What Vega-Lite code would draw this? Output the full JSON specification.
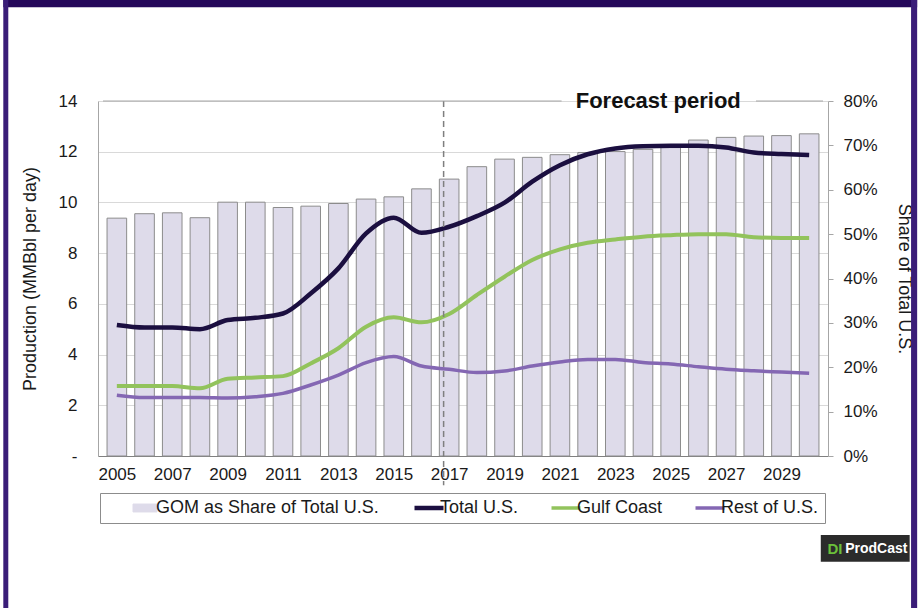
{
  "$schema": "https://vega.github.io/schema/vega-lite/v6.json",
  "width": 730,
  "height": 355,
  "autosize": {"type": "none"},
  "padding": {"left": 98, "top": 101, "right": 92, "bottom": 152},
  "background": "white",
  "config": {
    "view": {"stroke": null},
    "font": "Liberation Sans",
    "axis": {
      "labelFont": "Liberation Sans",
      "titleFont": "Liberation Sans",
      "labelColor": "#1a1a1a",
      "titleColor": "#1a1a1a",
      "titleFontWeight": "normal",
      "labelFontSize": 17,
      "titleFontSize": 18
    }
  },
  "datasets": {
    "share": [
      {"year": 2005, "share": 0.536}, {"year": 2006, "share": 0.546}, {"year": 2007, "share": 0.548},
      {"year": 2008, "share": 0.537}, {"year": 2009, "share": 0.572}, {"year": 2010, "share": 0.572},
      {"year": 2011, "share": 0.560}, {"year": 2012, "share": 0.563}, {"year": 2013, "share": 0.569},
      {"year": 2014, "share": 0.579}, {"year": 2015, "share": 0.584}, {"year": 2016, "share": 0.602},
      {"year": 2017, "share": 0.624}, {"year": 2018, "share": 0.652}, {"year": 2019, "share": 0.669},
      {"year": 2020, "share": 0.673}, {"year": 2021, "share": 0.679}, {"year": 2022, "share": 0.684},
      {"year": 2023, "share": 0.686}, {"year": 2024, "share": 0.691}, {"year": 2025, "share": 0.695},
      {"year": 2026, "share": 0.712}, {"year": 2027, "share": 0.718}, {"year": 2028, "share": 0.721},
      {"year": 2029, "share": 0.722}, {"year": 2030, "share": 0.726}
    ],
    "prod": [
      {"year": 2005, "series": "Total U.S.", "mmbd": 5.17}, {"year": 2006, "series": "Total U.S.", "mmbd": 5.07},
      {"year": 2007, "series": "Total U.S.", "mmbd": 5.07}, {"year": 2008, "series": "Total U.S.", "mmbd": 5.0},
      {"year": 2009, "series": "Total U.S.", "mmbd": 5.36}, {"year": 2010, "series": "Total U.S.", "mmbd": 5.45},
      {"year": 2011, "series": "Total U.S.", "mmbd": 5.62}, {"year": 2012, "series": "Total U.S.", "mmbd": 6.41},
      {"year": 2013, "series": "Total U.S.", "mmbd": 7.4}, {"year": 2014, "series": "Total U.S.", "mmbd": 8.78},
      {"year": 2015, "series": "Total U.S.", "mmbd": 9.4}, {"year": 2016, "series": "Total U.S.", "mmbd": 8.8},
      {"year": 2017, "series": "Total U.S.", "mmbd": 9.04}, {"year": 2018, "series": "Total U.S.", "mmbd": 9.46},
      {"year": 2019, "series": "Total U.S.", "mmbd": 9.99}, {"year": 2020, "series": "Total U.S.", "mmbd": 10.82},
      {"year": 2021, "series": "Total U.S.", "mmbd": 11.47}, {"year": 2022, "series": "Total U.S.", "mmbd": 11.9},
      {"year": 2023, "series": "Total U.S.", "mmbd": 12.13}, {"year": 2024, "series": "Total U.S.", "mmbd": 12.22},
      {"year": 2025, "series": "Total U.S.", "mmbd": 12.24}, {"year": 2026, "series": "Total U.S.", "mmbd": 12.24},
      {"year": 2027, "series": "Total U.S.", "mmbd": 12.17}, {"year": 2028, "series": "Total U.S.", "mmbd": 11.97},
      {"year": 2029, "series": "Total U.S.", "mmbd": 11.91}, {"year": 2030, "series": "Total U.S.", "mmbd": 11.87},
      {"year": 2005, "series": "Gulf Coast", "mmbd": 2.76}, {"year": 2006, "series": "Gulf Coast", "mmbd": 2.76},
      {"year": 2007, "series": "Gulf Coast", "mmbd": 2.76}, {"year": 2008, "series": "Gulf Coast", "mmbd": 2.67},
      {"year": 2009, "series": "Gulf Coast", "mmbd": 3.05}, {"year": 2010, "series": "Gulf Coast", "mmbd": 3.1},
      {"year": 2011, "series": "Gulf Coast", "mmbd": 3.15}, {"year": 2012, "series": "Gulf Coast", "mmbd": 3.65},
      {"year": 2013, "series": "Gulf Coast", "mmbd": 4.25}, {"year": 2014, "series": "Gulf Coast", "mmbd": 5.1},
      {"year": 2015, "series": "Gulf Coast", "mmbd": 5.47}, {"year": 2016, "series": "Gulf Coast", "mmbd": 5.27},
      {"year": 2017, "series": "Gulf Coast", "mmbd": 5.6}, {"year": 2018, "series": "Gulf Coast", "mmbd": 6.35},
      {"year": 2019, "series": "Gulf Coast", "mmbd": 7.07}, {"year": 2020, "series": "Gulf Coast", "mmbd": 7.73},
      {"year": 2021, "series": "Gulf Coast", "mmbd": 8.15}, {"year": 2022, "series": "Gulf Coast", "mmbd": 8.41},
      {"year": 2023, "series": "Gulf Coast", "mmbd": 8.54}, {"year": 2024, "series": "Gulf Coast", "mmbd": 8.65},
      {"year": 2025, "series": "Gulf Coast", "mmbd": 8.71}, {"year": 2026, "series": "Gulf Coast", "mmbd": 8.75},
      {"year": 2027, "series": "Gulf Coast", "mmbd": 8.75}, {"year": 2028, "series": "Gulf Coast", "mmbd": 8.63},
      {"year": 2029, "series": "Gulf Coast", "mmbd": 8.6}, {"year": 2030, "series": "Gulf Coast", "mmbd": 8.6},
      {"year": 2005, "series": "Rest of U.S.", "mmbd": 2.4}, {"year": 2006, "series": "Rest of U.S.", "mmbd": 2.31},
      {"year": 2007, "series": "Rest of U.S.", "mmbd": 2.31}, {"year": 2008, "series": "Rest of U.S.", "mmbd": 2.31},
      {"year": 2009, "series": "Rest of U.S.", "mmbd": 2.29}, {"year": 2010, "series": "Rest of U.S.", "mmbd": 2.34},
      {"year": 2011, "series": "Rest of U.S.", "mmbd": 2.47}, {"year": 2012, "series": "Rest of U.S.", "mmbd": 2.8},
      {"year": 2013, "series": "Rest of U.S.", "mmbd": 3.19}, {"year": 2014, "series": "Rest of U.S.", "mmbd": 3.68},
      {"year": 2015, "series": "Rest of U.S.", "mmbd": 3.92}, {"year": 2016, "series": "Rest of U.S.", "mmbd": 3.55},
      {"year": 2017, "series": "Rest of U.S.", "mmbd": 3.42}, {"year": 2018, "series": "Rest of U.S.", "mmbd": 3.29},
      {"year": 2019, "series": "Rest of U.S.", "mmbd": 3.35}, {"year": 2020, "series": "Rest of U.S.", "mmbd": 3.55},
      {"year": 2021, "series": "Rest of U.S.", "mmbd": 3.71}, {"year": 2022, "series": "Rest of U.S.", "mmbd": 3.81},
      {"year": 2023, "series": "Rest of U.S.", "mmbd": 3.81}, {"year": 2024, "series": "Rest of U.S.", "mmbd": 3.69},
      {"year": 2025, "series": "Rest of U.S.", "mmbd": 3.63}, {"year": 2026, "series": "Rest of U.S.", "mmbd": 3.52},
      {"year": 2027, "series": "Rest of U.S.", "mmbd": 3.42}, {"year": 2028, "series": "Rest of U.S.", "mmbd": 3.36},
      {"year": 2029, "series": "Rest of U.S.", "mmbd": 3.31}, {"year": 2030, "series": "Rest of U.S.", "mmbd": 3.26}
    ],
    "one": [{}]
  },
  "layer": [
    {
      "data": {"name": "share"},
      "mark": {"type": "bar", "size": 19.6, "stroke": "#8c8c8c", "strokeWidth": 1},
      "encoding": {
        "x": {
          "field": "year", "type": "quantitative",
          "scale": {"domain": [2004.5, 2030.5], "nice": false, "zero": false},
          "axis": {"values": [2005, 2007, 2009, 2011, 2013, 2015, 2017, 2019, 2021, 2023, 2025, 2027, 2029], "format": "d", "grid": false, "ticks": false, "domainColor": "#808080", "labelPadding": 10, "labelFlush": false, "labelOverlap": false, "title": null}
        },
        "y": {
          "field": "share", "type": "quantitative",
          "scale": {"domain": [0, 0.8], "nice": false},
          "axis": {"orient": "right", "values": [0, 0.1, 0.2, 0.3, 0.4, 0.5, 0.6, 0.7, 0.8], "format": ".0%", "grid": false, "tickSize": 5, "tickColor": "#a6a6a6", "domainColor": "#a6a6a6", "labelPadding": 10, "title": "Share of Total U.S.", "titlePadding": 17}
        },
        "color": {
          "datum": "GOM as Share of Total U.S.", "type": "nominal",
          "scale": {"domain": ["GOM as Share of Total U.S.", "Total U.S.", "Gulf Coast", "Rest of U.S."], "range": ["#dedbea", "#1b0f40", "#92c35c", "#8467b3"]},
          "legend": {
            "orient": "none", "legendX": 2, "legendY": 392, "direction": "horizontal",
            "title": " ", "titleOrient": "left", "titlePadding": 30, "titleFontSize": 17,
            "padding": 6, "strokeColor": "#8c8c8c",
            "labelFontSize": 18, "labelFont": "Liberation Sans", "labelColor": "#1a1a1a",
            "labelOffset": 2, "columnPadding": 25, "labelLimit": 400, "symbolSize": 841,
            "labelExpr": "datum.label === 'Rest of U.S.' ? datum.label + '      ' : datum.label",
            "encode": {"symbols": {"update": {
              "shape": {"signal": "datum.value === 'GOM as Share of Total U.S.' ? 'M-1,-0.33L1,-0.33L1,0.33L-1,0.33Z' : 'stroke'"},
              "size": {"signal": "datum.value === 'GOM as Share of Total U.S.' ? 576 : 841"},
              "fill": {"signal": "datum.value === 'GOM as Share of Total U.S.' ? '#dedbea' : 'transparent'"},
              "stroke": {"signal": "datum.value === 'GOM as Share of Total U.S.' ? '#8c8c8c' : datum.value === 'Total U.S.' ? '#1b0f40' : datum.value === 'Gulf Coast' ? '#92c35c' : '#8467b3'"},
              "strokeWidth": {"signal": "datum.value === 'GOM as Share of Total U.S.' ? 1 : datum.value === 'Total U.S.' ? 4.5 : 3.5"},
              "opacity": {"value": 1}
            }}}
          }
        }
      }
    },
    {
      "layer": [
        {
          "data": {"name": "prod"},
          "mark": {"type": "line", "interpolate": "monotone"},
          "encoding": {
            "x": {"field": "year", "type": "quantitative", "scale": {"domain": [2004.5, 2030.5], "nice": false, "zero": false},
              "axis": {"values": [2005, 2007, 2009, 2011, 2013, 2015, 2017, 2019, 2021, 2023, 2025, 2027, 2029], "format": "d", "grid": false, "ticks": false, "domainColor": "#808080", "labelPadding": 10, "labelFlush": false, "labelOverlap": false, "title": null}},
            "y": {
              "field": "mmbd", "type": "quantitative",
              "scale": {"domain": [0, 14], "nice": false},
              "axis": {"orient": "left", "values": [0, 2, 4, 6, 8, 10, 12, 14], "labelExpr": "datum.value === 0 ? '-  ' : datum.label", "grid": true, "gridColor": "#d9d9d9", "domainColor": "#a6a6a6", "ticks": false, "labelPadding": 21, "title": "Production (MMBbl per day)", "titlePadding": 19}
            },
            "color": {
              "field": "series", "type": "nominal",
              "scale": {"domain": ["GOM as Share of Total U.S.", "Total U.S.", "Gulf Coast", "Rest of U.S."], "range": ["#dedbea", "#1b0f40", "#92c35c", "#8467b3"]},
              "legend": {
                "orient": "none", "legendX": 2, "legendY": 392, "direction": "horizontal",
                "title": " ", "titleOrient": "left", "titlePadding": 30, "titleFontSize": 17,
                "padding": 6, "strokeColor": "#8c8c8c",
                "labelFontSize": 18, "labelFont": "Liberation Sans", "labelColor": "#1a1a1a",
                "labelOffset": 2, "columnPadding": 25, "labelLimit": 400, "symbolSize": 841,
                "labelExpr": "datum.label === 'Rest of U.S.' ? datum.label + '      ' : datum.label",
                "encode": {"symbols": {"update": {
                  "shape": {"signal": "datum.value === 'GOM as Share of Total U.S.' ? 'M-1,-0.33L1,-0.33L1,0.33L-1,0.33Z' : 'stroke'"},
                  "size": {"signal": "datum.value === 'GOM as Share of Total U.S.' ? 576 : 841"},
                  "fill": {"signal": "datum.value === 'GOM as Share of Total U.S.' ? '#dedbea' : 'transparent'"},
                  "stroke": {"signal": "datum.value === 'GOM as Share of Total U.S.' ? '#8c8c8c' : datum.value === 'Total U.S.' ? '#1b0f40' : datum.value === 'Gulf Coast' ? '#92c35c' : '#8467b3'"},
                  "strokeWidth": {"signal": "datum.value === 'GOM as Share of Total U.S.' ? 1 : datum.value === 'Total U.S.' ? 4.5 : 3.5"},
                  "opacity": {"value": 1}
                }}}
              }
            },
            "strokeWidth": {"field": "series", "type": "nominal", "scale": {"domain": ["Total U.S.", "Gulf Coast", "Rest of U.S."], "range": [4.5, 3.5, 3.5]}, "legend": null}
          }
        },
        {
          "data": {"name": "one"},
          "mark": {"type": "rule", "strokeDash": [6, 4], "color": "#7f7f7f", "strokeWidth": 1.5},
          "encoding": {"x": {"datum": 2016.8}, "y": {"datum": 14}, "y2": {"datum": -1.15}}
        },
        {
          "data": {"name": "one"},
          "mark": {"type": "rule", "color": "#a6a6a6", "strokeWidth": 1},
          "encoding": {"x": {"datum": 2004.5}, "x2": {"datum": 2021.06}, "y": {"datum": 14}}
        },
        {
          "data": {"name": "one"},
          "mark": {"type": "rule", "color": "#a6a6a6", "strokeWidth": 1},
          "encoding": {"x": {"datum": 2028.08}, "x2": {"datum": 2030.5}, "y": {"datum": 14}}
        },
        {
          "data": {"name": "one"},
          "mark": {"type": "text", "text": "Forecast period", "fontSize": 22, "fontWeight": "bold", "font": "Liberation Sans", "align": "center", "baseline": "middle", "color": "#111111"},
          "encoding": {"x": {"datum": 2024.55}, "y": {"datum": 14}}
        },
        {
          "data": {"name": "one"},
          "mark": {"type": "rect", "color": "#2b2b2b"},
          "encoding": {"x": {"datum": 2030.42}, "x2": {"datum": 2033.63}, "y": {"datum": -3.115}, "y2": {"datum": -4.168}}
        },
        {
          "data": {"name": "one"},
          "mark": {"type": "text", "text": "DI", "fontSize": 15, "fontWeight": "bold", "font": "Liberation Sans", "align": "left", "baseline": "middle", "color": "#6abf3a"},
          "encoding": {"x": {"datum": 2030.66}, "y": {"datum": -3.65}}
        },
        {
          "data": {"name": "one"},
          "mark": {"type": "text", "text": "ProdCast", "fontSize": 14, "fontWeight": "bold", "font": "Liberation Sans", "align": "left", "baseline": "middle", "color": "#ffffff"},
          "encoding": {"x": {"datum": 2031.3}, "y": {"datum": -3.65}}
        },
        {
          "data": {"name": "one"},
          "mark": {"type": "rect", "color": "#25085a"},
          "encoding": {"x": {"datum": 2000.9}, "x2": {"datum": 2033.9}, "y": {"datum": 18.1}, "y2": {"datum": 17.7}}
        },
        {
          "data": {"name": "one"},
          "mark": {"type": "rect", "color": "#3a1d78"},
          "encoding": {"x": {"datum": 2000.9}, "x2": {"datum": 2001.08}, "y": {"datum": 18.1}, "y2": {"datum": -6.1}}
        },
        {
          "data": {"name": "one"},
          "mark": {"type": "rect", "color": "#3a1d78"},
          "encoding": {"x": {"datum": 2033.68}, "x2": {"datum": 2033.9}, "y": {"datum": 18.1}, "y2": {"datum": -6.1}}
        }
      ]
    }
  ],
  "resolve": {"scale": {"y": "independent"}}
}
